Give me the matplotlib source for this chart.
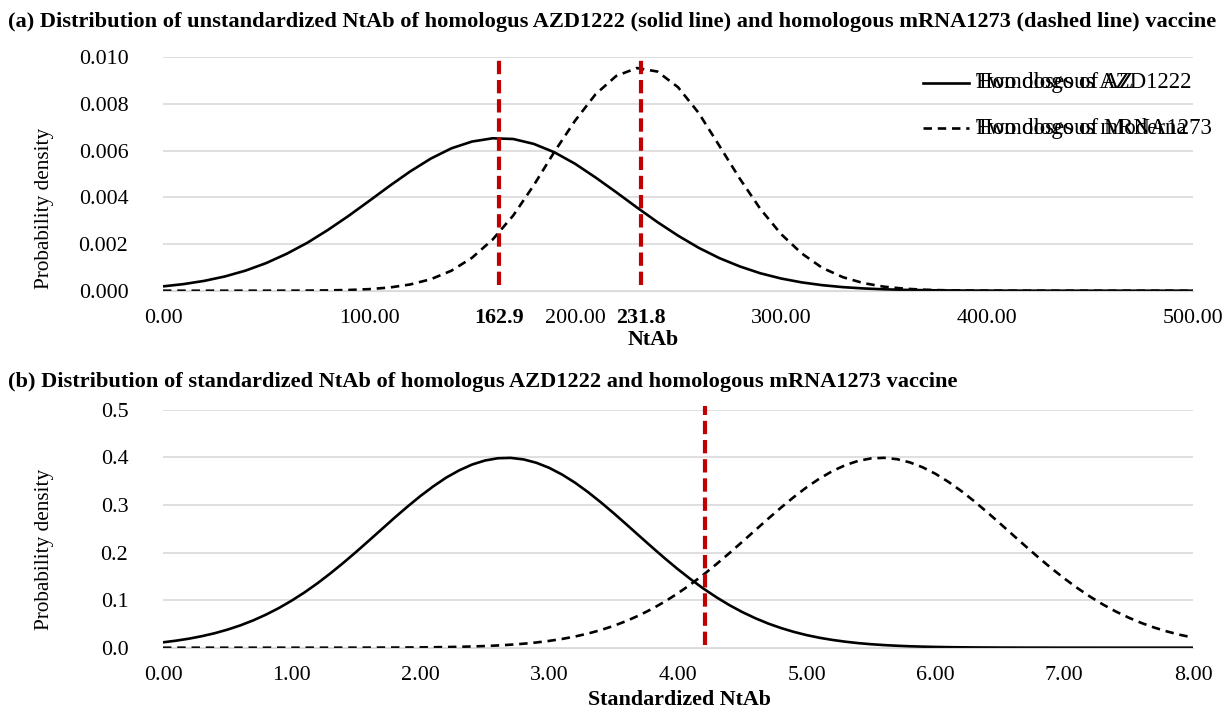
import matplotlib

matplotlib.use("Agg")
import matplotlib.pyplot as plt
from matplotlib.transforms import blended_transform_factory

plt.rcParams["font.family"] = ["Liberation Serif", "DejaVu Serif"]

# panel (a): unstandardized NtAb, every 10 units
RAW_X = [0, 10, 20, 30, 40, 50, 60, 70, 80, 90,
         100, 110, 120, 130, 140, 150, 160, 170, 180, 190,
         200, 210, 220, 230, 240, 250, 260, 270, 280, 290,
         300, 310, 320, 330, 340, 350, 360, 370, 380, 390,
         400, 410, 420, 430, 440, 450, 460, 470, 480, 490, 500]
RAW_AZ = [0.000185, 0.000283, 0.000421, 0.000609, 0.000859, 0.00118, 0.00158, 0.00205, 0.00260, 0.00320,
          0.00384, 0.00449, 0.00511, 0.00566, 0.00610, 0.00639, 0.00653, 0.00650, 0.00629, 0.00593,
          0.00544, 0.00485, 0.00422, 0.00357, 0.00294, 0.00236, 0.00184, 0.00140, 0.00104, 0.000746,
          0.000523, 0.000357, 0.000237, 0.000153, 0.000097, 0.000059, 0.000035, 0.000021, 0.000012, 0.000006,
          0.000003, 0.000002, 0.000001, 0.0, 0.0, 0.0, 0.0, 0.0, 0.0, 0.0, 0.0]
RAW_MRNA = [0.0, 0.0, 0.0, 0.0000001, 0.0000003, 0.0000008, 0.0000021, 0.0000053, 0.0000131, 0.0000303,
            0.0000663, 0.000137, 0.000267, 0.000492, 0.000856, 0.00141, 0.00219, 0.00322, 0.00452, 0.00595,
            0.00728, 0.00842, 0.00920, 0.00954, 0.00939, 0.00872, 0.00762, 0.00622, 0.00480, 0.00350,
            0.00243, 0.00160, 0.00098, 0.000580, 0.000325, 0.000172, 0.000086, 0.000040, 0.000018, 0.0000074,
            0.0000029, 0.0000011, 0.0000004, 0.0, 0.0, 0.0, 0.0, 0.0, 0.0, 0.0, 0.0]
RAW_MEANS = [162.9, 231.8]
RAW_XTICKS = [0, 100, 200, 300, 400, 500]
RAW_YTICKS = [0.000, 0.002, 0.004, 0.006, 0.008, 0.010]

# panel (b): standardized NtAb, read every 0.1
STD_X = [0.0, 0.1, 0.2, 0.3, 0.4, 0.5, 0.6, 0.7, 0.8, 0.9,
         1.0, 1.1, 1.2, 1.3, 1.4, 1.5, 1.6, 1.7, 1.8, 1.9,
         2.0, 2.1, 2.2, 2.3, 2.4, 2.5, 2.6, 2.7, 2.8, 2.9,
         3.0, 3.1, 3.2, 3.3, 3.4, 3.5, 3.6, 3.7, 3.8, 3.9,
         4.0, 4.1, 4.2, 4.3, 4.4, 4.5, 4.6, 4.7, 4.8, 4.9,
         5.0, 5.1, 5.2, 5.3, 5.4, 5.5, 5.6, 5.7, 5.8, 5.9,
         6.0, 6.1, 6.2, 6.3, 6.4, 6.5, 6.6, 6.7, 6.8, 6.9,
         7.0, 7.1, 7.2, 7.3, 7.4, 7.5, 7.6, 7.7, 7.8, 7.9, 8.0]
STD_AZ = [0.0113, 0.0147, 0.0189, 0.0241, 0.0303, 0.0379, 0.0468, 0.0573, 0.0695, 0.0833,
          0.0990, 0.1163, 0.1354, 0.1561, 0.1781, 0.2012, 0.2251, 0.2492, 0.2734, 0.2966,
          0.3188, 0.3391, 0.3574, 0.3725, 0.3847, 0.3932, 0.3980, 0.3988, 0.3956, 0.3885,
          0.3778, 0.3637, 0.3467, 0.3271, 0.3056, 0.2827, 0.2589, 0.2347, 0.2107, 0.1872,
          0.1647, 0.1435, 0.1237, 0.1057, 0.0893, 0.0748, 0.0620, 0.0508, 0.0413, 0.0332,
          0.0264, 0.0208, 0.0163, 0.0126, 0.0096, 0.0073, 0.0055, 0.0041, 0.0030, 0.0022,
          0.0016, 0.0011, 0.0008, 0.00055, 0.0004, 0.00026, 0.0002, 0.00012, 0.0001, 0.00005,
          0.00003, 0.00002, 0.00001, 0.00001, 0.0, 0.0, 0.0, 0.0, 0.0, 0.0, 0.0]
STD_MRNA = [0.0, 0.0000001, 0.0000002, 0.0000004, 0.0000006, 0.000001, 0.0000016, 0.0000027, 0.0000043, 0.000007,
            0.000011, 0.0000175, 0.0000272, 0.000042, 0.0000643, 0.000097, 0.000145, 0.000215, 0.000314, 0.000458,
            0.000656, 0.000935, 0.00131, 0.00184, 0.00254, 0.00347, 0.00470, 0.00631, 0.00837, 0.01100,
            0.01431, 0.01842, 0.02349, 0.02965, 0.03705, 0.04587, 0.05618, 0.06815, 0.08183, 0.09728,
            0.1145, 0.1334, 0.1539, 0.1759, 0.1989, 0.2227, 0.2468, 0.2709, 0.2943, 0.3166,
            0.3372, 0.3555, 0.3711, 0.3836, 0.3925, 0.3977, 0.3989, 0.3961, 0.3894, 0.3790,
            0.3653, 0.3485, 0.3292, 0.3079, 0.2850, 0.2613, 0.2371, 0.2131, 0.1895, 0.1669,
            0.1456, 0.1257, 0.1074, 0.0909, 0.0761, 0.0632, 0.0519, 0.0422, 0.0340, 0.0270, 0.0213]
STD_CUT = 4.21
STD_XTICKS = [0, 1, 2, 3, 4, 5, 6, 7, 8]
STD_YTICKS = [0.0, 0.1, 0.2, 0.3, 0.4, 0.5]

LEGEND_OLD = ["Two doses of AZ", "Two doses of Moderna"]
LEGEND_NEW = ["Homologous AZD1222", "Homologous mRNA1273"]

RED = "#C00000"
GRID = "#D9D9D9"
FS = 15.8


def _style(ax):
    for s in ("top", "right", "left"):
        ax.spines[s].set_visible(False)
    ax.spines["bottom"].set_color(GRID)
    ax.grid(axis="y", color=GRID, lw=1.2)
    ax.set_axisbelow(True)
    ax.tick_params(length=0, labelsize=FS)
    ax.tick_params(axis="y", pad=25)
    ax.tick_params(axis="x", pad=13)


W, H = 1223, 712
fig = plt.figure(figsize=(W / 100, H / 100), dpi=100)
left, right = 163 / W, 1193 / W

# ---- panel (a)
ax1 = fig.add_axes([left, (H - 290.7) / H, right - left, 233.4 / H])
_style(ax1)
ax1.plot(RAW_X, RAW_AZ, color="black", lw=1.9, solid_capstyle="butt")
ax1.plot(RAW_X, RAW_MRNA, color="black", lw=1.9, dashes=(3.2, 2.2))
for m in RAW_MEANS:
    ax1.plot([m, m], [0.00025, 0.0101], color=RED, lw=3, dashes=(3.2, 1.4), clip_on=False)
ax1.set_xlim(0, 500)
ax1.set_ylim(0, 0.010)
ax1.set_xticks(RAW_XTICKS)
ax1.set_xticklabels([f"{v:.2f}" for v in RAW_XTICKS])
ax1.set_yticks(RAW_YTICKS)
ax1.set_yticklabels([f"{v:.3f}" for v in RAW_YTICKS])
trans = blended_transform_factory(ax1.transData, ax1.transAxes)
for m in RAW_MEANS:
    ax1.text(m, -0.115, f"{m:.1f}", transform=trans, ha="center", va="center",
             fontsize=FS, fontweight="bold")

# overlapped legend, as in the source
for i, (ls, y) in enumerate(zip(["-", "--"], [0.890, 0.697])):
    ax1.plot([0.738, 0.783], [y, y], transform=ax1.transAxes, color="black", lw=1.9,
             linestyle=ls, dashes=(3.2, 2.2) if ls == "--" else (None, None), clip_on=False)
    for lab in (LEGEND_OLD[i], LEGEND_NEW[i]):
        ax1.text(0.789, y, lab, transform=ax1.transAxes, ha="left", va="center", fontsize=16.5)

fig.text(8 / W, 1 - 22 / H,
         "(a) Distribution of unstandardized NtAb of homologus AZD1222 (solid line) and "
         "homologous mRNA1273 (dashed line) vaccine",
         ha="left", va="center", fontsize=16.1, fontweight="bold")
fig.text(653 / W, 1 - 340 / H, "NtAb", ha="center", va="center", fontsize=FS, fontweight="bold")
fig.text(45 / W, 1 - 208 / H, "Probability density", ha="center", va="center",
         rotation=90, fontsize=15.3)

# ---- panel (b)
ax2 = fig.add_axes([left, (H - 647.7) / H, right - left, 238.0 / H])
_style(ax2)
ax2.plot(STD_X, STD_AZ, color="black", lw=1.9)
ax2.plot(STD_X, STD_MRNA, color="black", lw=1.9, dashes=(3.2, 2.2))
ax2.plot([STD_CUT, STD_CUT], [0.005, 0.508], color=RED, lw=3, dashes=(3.2, 1.4), clip_on=False)
ax2.set_xlim(0, 8)
ax2.set_ylim(0, 0.5)
ax2.set_xticks(STD_XTICKS)
ax2.set_xticklabels([f"{v:.2f}" for v in STD_XTICKS])
ax2.set_yticks(STD_YTICKS)
ax2.set_yticklabels([f"{v:.1f}" for v in STD_YTICKS])

fig.text(8 / W, 1 - 382 / H,
         "(b) Distribution of standardized NtAb of homologus AZD1222 and homologous mRNA1273 vaccine",
         ha="left", va="center", fontsize=16.1, fontweight="bold")
fig.text(679 / W, 1 - 700 / H, "Standardized NtAb", ha="center", va="center",
         fontsize=FS, fontweight="bold")
fig.text(45 / W, 1 - 549 / H, "Probability density", ha="center", va="center",
         rotation=90, fontsize=15.3)

fig.savefig("out.png", dpi=100)
